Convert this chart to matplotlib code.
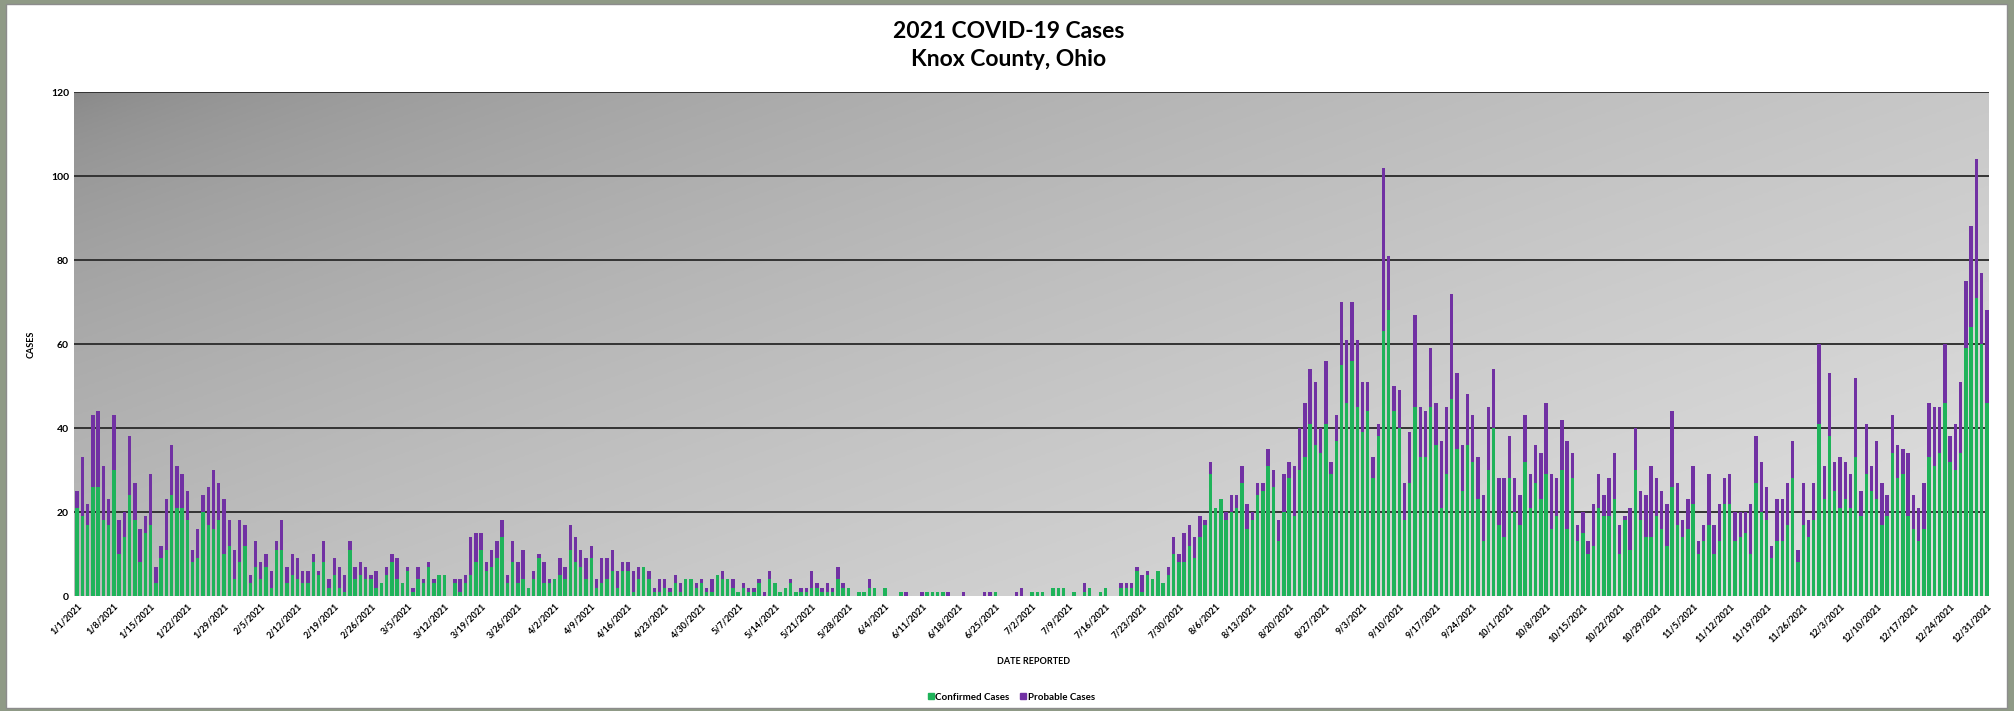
import pandas as pd
import numpy as np
import matplotlib
matplotlib.use("Agg")
import matplotlib.pyplot as plt
from matplotlib.patches import Rectangle
from matplotlib.lines import Line2D

#######################################
## Daily case counts
#######################################
# Confirmed cases (green), one list per month
conf_jan = [21, 19, 17, 26, 26, 18, 17, 30, 10, 14, 24, 18, 8, 15, 17, 3, 9, 11, 24, 21, 21, 18, 8, 9, 20, 17, 16, 18, 10, 12, 4]
conf_feb = [8, 12, 3, 7, 4, 7, 2, 11, 11, 3, 5, 4, 3, 3, 8, 5, 8, 2, 5, 2, 1, 11, 4, 5, 4, 4, 2, 3]
conf_mar = [5, 8, 4, 3, 6, 1, 4, 3, 7, 3, 5, 5, 0, 3, 1, 3, 5, 8, 11, 6, 7, 9, 14, 3, 8, 3, 4, 2, 4, 9, 3]
conf_apr = [3, 4, 5, 4, 11, 8, 7, 4, 9, 2, 3, 4, 6, 2, 6, 6, 1, 4, 7, 4, 1, 1, 2, 1, 3, 1, 4, 4, 2, 3]
conf_may = [1, 1, 5, 4, 4, 2, 1, 2, 1, 1, 3, 0, 4, 3, 1, 2, 3, 1, 1, 1, 2, 2, 1, 1, 1, 4, 2, 2, 0, 1, 1]
conf_jun = [2, 2, 0, 2, 0, 0, 1, 0, 0, 0, 0, 1, 1, 1, 1, 0, 0, 0, 0, 0, 0, 0, 0, 0, 1, 0, 0, 0, 0, 0]
conf_jul = [0, 1, 1, 1, 0, 2, 2, 2, 0, 1, 0, 1, 2, 0, 1, 2, 0, 0, 2, 2, 2, 6, 1, 5, 4, 6, 3, 5, 10, 8, 8]
conf_aug = [12, 9, 14, 17, 29, 21, 23, 18, 20, 21, 27, 16, 18, 24, 25, 31, 26, 13, 20, 28, 19, 30, 33, 41, 36, 34, 41, 29, 37, 55, 46]
conf_sep = [56, 45, 39, 44, 28, 38, 63, 68, 44, 40, 18, 27, 45, 33, 33, 45, 36, 21, 29, 47, 35, 25, 36, 32, 23, 13, 30, 40, 17, 14]
conf_oct = [28, 20, 17, 32, 21, 27, 23, 29, 16, 19, 30, 16, 28, 13, 15, 10, 12, 21, 19, 19, 23, 10, 18, 11, 30, 18, 14, 14, 19, 16, 12]
conf_nov = [26, 17, 14, 16, 22, 10, 13, 17, 10, 13, 22, 22, 13, 14, 15, 10, 27, 20, 18, 9, 13, 13, 17, 28, 8, 17, 14, 18, 41, 23]
conf_dec = [38, 25, 21, 23, 21, 33, 19, 29, 25, 23, 17, 19, 34, 28, 29, 19, 16, 13, 16, 33, 31, 34, 46, 32, 30, 34, 59, 64, 71, 60, 46]

# Probable cases (purple), stacked on top
prob_jan = [4, 14, 5, 17, 18, 13, 6, 13, 8, 6, 14, 9, 8, 4, 12, 4, 3, 12, 12, 10, 8, 7, 3, 7, 4, 9, 14, 9, 13, 6, 7]
prob_feb = [10, 5, 2, 6, 4, 3, 4, 2, 7, 4, 5, 5, 3, 3, 2, 1, 5, 2, 4, 5, 4, 2, 3, 3, 3, 1, 4, 0]
prob_mar = [2, 2, 5, 0, 1, 1, 3, 1, 1, 1, 0, 0, 0, 1, 3, 2, 9, 7, 4, 2, 4, 4, 4, 2, 5, 5, 7, 0, 2, 1, 5]
prob_apr = [1, 0, 4, 3, 6, 6, 4, 5, 3, 2, 6, 5, 5, 4, 2, 2, 5, 3, 0, 2, 1, 3, 2, 1, 2, 2, 0, 0, 1, 1]
prob_may = [1, 3, 0, 2, 0, 2, 0, 1, 1, 1, 1, 1, 2, 0, 0, 0, 1, 0, 1, 1, 4, 1, 1, 2, 1, 3, 1, 0, 0, 0, 0]
prob_jun = [2, 0, 0, 0, 0, 0, 0, 1, 0, 0, 1, 0, 0, 0, 0, 1, 0, 0, 1, 0, 0, 0, 1, 1, 0, 0, 0, 0, 1, 2]
prob_jul = [0, 0, 0, 0, 0, 0, 0, 0, 0, 0, 0, 2, 0, 0, 0, 0, 0, 0, 1, 1, 1, 1, 4, 1, 0, 0, 0, 2, 4, 2, 7]
prob_aug = [5, 5, 5, 1, 3, 0, 0, 2, 4, 3, 4, 6, 2, 3, 2, 4, 4, 5, 9, 4, 12, 10, 13, 13, 15, 6, 15, 3, 6, 15, 15]
prob_sep = [14, 16, 12, 7, 5, 3, 39, 13, 6, 9, 9, 12, 22, 12, 11, 14, 10, 16, 16, 25, 18, 11, 12, 11, 10, 11, 15, 14, 11, 14]
prob_oct = [10, 8, 7, 11, 8, 9, 11, 17, 13, 9, 12, 21, 6, 4, 5, 3, 10, 8, 5, 9, 11, 7, 1, 10, 10, 7, 10, 17, 9, 9, 10]
prob_nov = [18, 10, 4, 7, 9, 3, 4, 12, 7, 9, 6, 7, 7, 6, 5, 12, 11, 12, 8, 3, 10, 10, 10, 9, 3, 10, 4, 9, 19, 8]
prob_dec = [15, 7, 12, 9, 8, 19, 6, 12, 6, 14, 10, 5, 9, 8, 6, 15, 8, 8, 11, 13, 14, 11, 14, 6, 11, 17, 16, 24, 33, 17, 22]

confirmed = np.array(conf_jan + conf_feb + conf_mar + conf_apr + conf_may + conf_jun +
                     conf_jul + conf_aug + conf_sep + conf_oct + conf_nov + conf_dec)
probable = np.array(prob_jan + prob_feb + prob_mar + prob_apr + prob_may + prob_jun +
                    prob_jul + prob_aug + prob_sep + prob_oct + prob_nov + prob_dec)

dates = pd.date_range("2021-01-01", "2021-12-31", freq="D")
tick_dates = dates[::7]
tick_labels = [f"{d.month}/{d.day}/{d.year}" for d in tick_dates]
y_ticks = [0, 20, 40, 60, 80, 100, 120]

green = "#1fb35a"
purple = "#7131a3"
font = "Lato"

###################
## Figure + frame
###################
fig = plt.figure(figsize=(20.15, 7.11), dpi=100, facecolor="#8f9a86")
fig.patches.append(Rectangle((6 / 2015, 3 / 711), 2001 / 2015, 704 / 711, transform=fig.transFigure,
                             facecolor="white", edgecolor="#8c8c8c", linewidth=1.0, zorder=-5))

pos = [74.5 / 2015, 1 - 596 / 711, 1915 / 2015, 504 / 711]

# gradient fill of the plot area (dark top-left -> light bottom-right)
bg = fig.add_axes(pos, zorder=0)
u, v = np.meshgrid(np.linspace(0, 1, 400), np.linspace(0, 1, 200))
t = np.clip(0.58 * u + 0.42 * v, 0, 1)
gray = (135 + 90 * t ** 0.6) / 255
bg.imshow(np.dstack([gray, gray, gray]), extent=[0, 1, 0, 1], aspect="auto", origin="upper")
bg.axis("off")

ax = fig.add_axes(pos, zorder=1)
ax.patch.set_alpha(0)

ax.bar(dates, confirmed, width=0.65, color=green, label="Confirmed Cases", zorder=2)
ax.bar(dates, probable, width=0.65, bottom=confirmed, color=purple, label="Probable Cases", zorder=2)

ax.set_xlim(dates[0] - pd.Timedelta(hours=12), dates[-1] + pd.Timedelta(hours=12))
ax.set_ylim(0, 120)
ax.set_yticks(y_ticks)
ax.set_yticklabels([str(y) for y in y_ticks], fontsize=7.5, fontweight="bold", family=font)
ax.set_xticks(tick_dates)
ax.set_xticklabels(tick_labels, rotation=45, ha="right", rotation_mode="anchor",
                   fontsize=6.5, fontweight="bold", family=font)
ax.tick_params(length=0, pad=4)

ax.set_axisbelow(True)
ax.grid(axis="y", color="#333333", linewidth=1.4)
ax.grid(axis="x", visible=False)
ax.yaxis.get_gridlines()[0].set_visible(False)
for s in ax.spines.values():
    s.set_visible(False)

fig.text(0.5005, 1 - 32 / 711, "2021 COVID-19 Cases", ha="center", va="center",
         fontsize=16.5, fontweight="bold", family=font)
fig.text(0.5005, 1 - 60 / 711, "Knox County, Ohio", ha="center", va="center",
         fontsize=16.5, fontweight="bold", family=font)
fig.text(31 / 2015, 1 - 344 / 711, "CASES", rotation=90, ha="center", va="center",
         fontsize=6.5, fontweight="bold", family=font)
fig.text(1034 / 2015, 1 - 662 / 711, "DATE REPORTED", ha="center", va="center",
         fontsize=6.5, fontweight="bold", family=font)

handles = [Line2D([], [], marker="s", linestyle="none", color=green, markersize=5),
           Line2D([], [], marker="s", linestyle="none", color=purple, markersize=5)]
fig.legend(handles, ["Confirmed Cases", "Probable Cases"], loc="center", ncol=2,
           bbox_to_anchor=(1011 / 2015, 1 - 697 / 711), frameon=False,
           handletextpad=0.1, columnspacing=1.0, handlelength=0.8,
           prop={"family": font, "weight": "bold", "size": 7})

fig.savefig("out.png", dpi=100, facecolor=fig.get_facecolor())
